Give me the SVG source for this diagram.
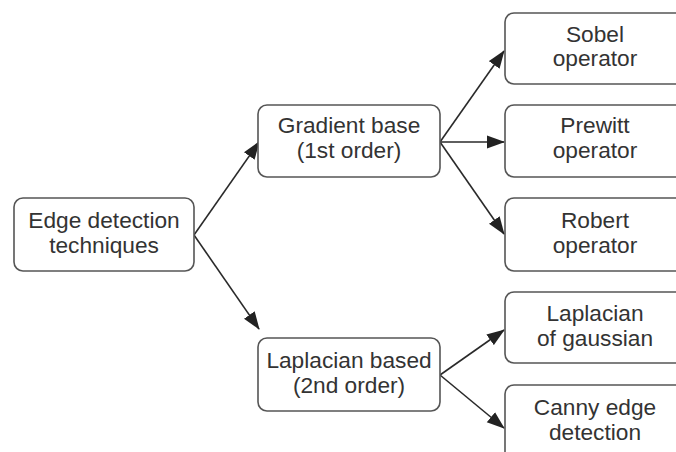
<svg xmlns="http://www.w3.org/2000/svg" width="676" height="452" viewBox="0 0 676 452">
<defs>
<marker id="ah" markerUnits="userSpaceOnUse" markerWidth="18" markerHeight="14" refX="17" refY="7" orient="auto">
<path d="M0,0.5 L18,7 L0,13.5 z" fill="#222"/>
</marker>
<style>
.box{fill:#fff;stroke:#555;stroke-width:1.6}
.t{font-family:"Liberation Sans",Arial,sans-serif;font-size:22.7px;fill:#333;text-anchor:middle}
.c{stroke:#2a2a2a;stroke-width:1.6;fill:none;marker-end:url(#ah)}
</style>
</defs>
<rect width="676" height="452" fill="#fff"/>
<g id="connectors">
<line class="c" x1="194" y1="235" x2="259" y2="142"/>
<line class="c" x1="194" y1="235" x2="259" y2="329"/>
<line class="c" x1="440" y1="142" x2="504" y2="51"/>
<line class="c" x1="440" y1="142" x2="504" y2="142"/>
<line class="c" x1="440" y1="142" x2="504" y2="234"/>
<line class="c" x1="440" y1="375" x2="504" y2="330"/>
<line class="c" x1="440" y1="375" x2="504" y2="428"/>
</g>
<g id="edge">
<rect class="box" x="14" y="198" width="180" height="73" rx="9"/>
<text class="t" x="104" y="228">Edge detection</text>
<text class="t" x="104" y="253">techniques</text>
</g>
<g id="gradient">
<rect class="box" x="258" y="105" width="182" height="72" rx="9"/>
<text class="t" x="349" y="133">Gradient base</text>
<text class="t" x="349" y="158">(1st order)</text>
</g>
<g id="laplacian">
<rect class="box" x="258" y="338" width="182" height="73" rx="9"/>
<text class="t" x="349" y="368">Laplacian based</text>
<text class="t" x="349" y="393">(2nd order)</text>
</g>
<g id="sobel">
<rect class="box" x="505" y="13" width="185" height="71" rx="9"/>
<text class="t" x="595" y="42">Sobel</text>
<text class="t" x="595" y="66">operator</text>
</g>
<g id="prewitt">
<rect class="box" x="505" y="105" width="185" height="72" rx="9"/>
<text class="t" x="595" y="133">Prewitt</text>
<text class="t" x="595" y="158">operator</text>
</g>
<g id="robert">
<rect class="box" x="505" y="198" width="185" height="73" rx="9"/>
<text class="t" x="595" y="228">Robert</text>
<text class="t" x="595" y="253">operator</text>
</g>
<g id="log">
<rect class="box" x="505" y="292" width="185" height="71" rx="9"/>
<text class="t" x="595" y="321">Laplacian</text>
<text class="t" x="595" y="346">of gaussian</text>
</g>
<g id="canny">
<rect class="box" x="505" y="385" width="185" height="80" rx="9"/>
<text class="t" x="595" y="415">Canny edge</text>
<text class="t" x="595" y="440">detection</text>
</g>
</svg>
